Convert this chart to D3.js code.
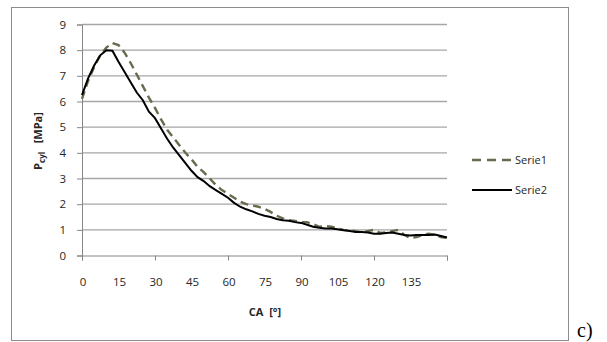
<!DOCTYPE html>
<html>
<head>
<meta charset="utf-8">
<script src="https://cdn.jsdelivr.net/npm/d3@7"></script>
<style>
  body { margin: 0; background: #fff; }
  text { font-family: "Open Sans", "Liberation Sans", sans-serif; fill: #262626; }
</style>
</head>
<body>
<script>
// crank angle (deg), step 2.5
var ca = d3.range(0, 150.01, 2.5);

// cylinder pressure [MPa]
var serie1 = [6.1, 6.8, 7.35, 7.8, 8.1, 8.28, 8.2, 7.9, 7.5, 7.05,
    6.6, 6.15, 5.75, 5.3, 4.9, 4.6, 4.3, 4.0, 3.75, 3.45,
    3.25, 3.0, 2.75, 2.55, 2.4, 2.25, 2.1, 2.0, 1.95, 1.9,
    1.82, 1.7, 1.55, 1.45, 1.38, 1.35, 1.3, 1.3, 1.22, 1.12,
    1.15, 1.12, 1.05, 1.0, 0.98, 0.95, 0.9, 0.95, 1.0, 0.88,
    0.9, 0.95, 1.0, 0.8, 0.68, 0.72, 0.8, 0.85, 0.8, 0.72, 0.68];
var serie2 = [6.25, 6.9, 7.4, 7.8, 8.0, 7.98, 7.55, 7.15, 6.75, 6.35,
    6.05, 5.6, 5.35, 4.95, 4.55, 4.2, 3.9, 3.6, 3.3, 3.05,
    2.9, 2.7, 2.55, 2.4, 2.25, 2.05, 1.9, 1.8, 1.72, 1.62,
    1.55, 1.5, 1.42, 1.37, 1.35, 1.3, 1.27, 1.2, 1.12, 1.08,
    1.05, 1.05, 1.02, 0.98, 0.95, 0.92, 0.92, 0.9, 0.85, 0.85,
    0.88, 0.9, 0.85, 0.8, 0.78, 0.8, 0.8, 0.8, 0.82, 0.76, 0.7];

var xLabels = [0, 15, 30, 45, 60, 75, 90, 105, 120, 135];
var xTicks = [0, 30, 60, 90, 120, 150];
var yTicks = [0, 1, 2, 3, 4, 5, 6, 7, 8, 9];
var seriesNames = ["Serie1", "Serie2"];

var W = 607, H = 342;
var margin = { top: 24.5, left: 82, right: 160, bottom: 87 };

var svg = d3.select("body").append("svg")
    .attr("width", W)
    .attr("height", H);

// outer frame
svg.append("rect")
    .attr("x", 11.5).attr("y", 7.5)
    .attr("width", 557).attr("height", 333)
    .attr("fill", "none")
    .attr("stroke", "#8c8c8c");

var x = d3.scaleLinear().domain([0, 150]).range([margin.left, 447]);
var y = d3.scaleLinear().domain([0, 9]).range([255.5, margin.top]);

// gridlines
svg.append("g").selectAll("line")
    .data(yTicks.slice(1))
    .enter().append("line")
    .attr("x1", x(0)).attr("x2", x(150))
    .attr("y1", function(d) { return y(d); })
    .attr("y2", function(d) { return y(d); })
    .attr("stroke", "#a6a6a6")
    .attr("stroke-width", 1.3);

// y axis
var yAxis = svg.append("g")
    .attr("transform", "translate(" + x(0) + ",0)")
    .call(d3.axisLeft(y).tickValues(yTicks).tickSize(5).tickPadding(11));
yAxis.select(".domain").attr("stroke", "#868686");
yAxis.selectAll(".tick line").attr("stroke", "#868686");
yAxis.selectAll("text").style("font-size", "11.5px");

// x axis: ticks every 30, labels every 15
var xAxis = svg.append("g")
    .attr("transform", "translate(0," + y(0) + ")")
    .call(d3.axisBottom(x).tickValues(xTicks).tickSize(5).tickFormat(""));
xAxis.select(".domain").attr("stroke", "#868686");
xAxis.selectAll(".tick line").attr("stroke", "#868686");

svg.append("g").selectAll("text")
    .data(xLabels)
    .enter().append("text")
    .attr("x", function(d) { return x(d) + 1; })
    .attr("y", 286)
    .attr("text-anchor", "middle")
    .style("font-size", "11.5px")
    .text(function(d) { return d; });

// series lines
var line1 = d3.line()
    .x(function(d, i) { return x(ca[i]); })
    .y(function(d) { return y(d); });

svg.append("path")
    .datum(serie1)
    .attr("d", line1)
    .attr("fill", "none")
    .attr("stroke", "#6b6a4e")
    .attr("stroke-width", 2.4)
    .attr("stroke-dasharray", "8,5");

svg.append("path")
    .datum(serie2)
    .attr("d", line1)
    .attr("fill", "none")
    .attr("stroke", "#000")
    .attr("stroke-width", 2);

// axis titles
var yt = svg.append("text")
    .attr("transform", "translate(42,141) rotate(-90)")
    .attr("text-anchor", "middle")
    .style("font-size", "11px")
    .style("font-weight", "bold");
yt.append("tspan").text("P");
yt.append("tspan").attr("dy", 3).style("font-size", "8px").text("cyl");
yt.append("tspan").attr("dy", -3).text("\u00a0\u00a0\u00a0[MPa]");

svg.append("text")
    .attr("x", 265).attr("y", 316)
    .attr("text-anchor", "middle")
    .style("font-size", "11px")
    .style("font-weight", "bold")
    .text("CA\u00a0\u00a0[\u00b0]");

// legend
var leg = svg.append("g").selectAll("g")
    .data(seriesNames)
    .enter().append("g")
    .attr("transform", function(d, i) { return "translate(472," + (160 + i * 30) + ")"; });
leg.append("line")
    .attr("x1", 0).attr("x2", 40)
    .attr("stroke", function(d, i) { return i === 0 ? "#6b6a4e" : "#000"; })
    .attr("stroke-width", function(d, i) { return i === 0 ? 2.4 : 2; })
    .attr("stroke-dasharray", function(d, i) { return i === 0 ? "9,6" : null; });
leg.append("text")
    .attr("x", 43).attr("dy", "0.35em")
    .style("font-size", "11px")
    .text(function(d) { return d; });

// panel label
svg.append("text")
    .attr("x", 577).attr("y", 337)
    .style("font-family", "'Liberation Serif', serif")
    .style("font-size", "20px")
    .style("fill", "#000")
    .text("c)");
</script>
</body>
</html>
